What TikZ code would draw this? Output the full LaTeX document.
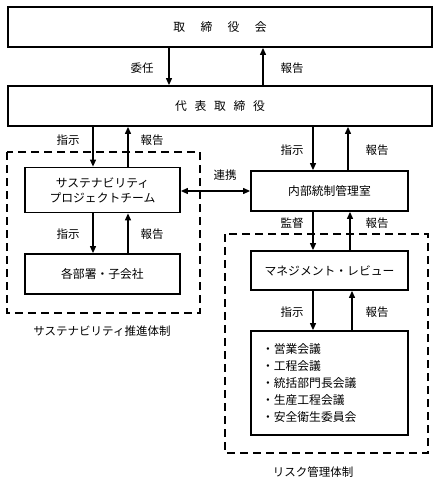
\documentclass[tikz,border=0pt]{standalone}
\usepackage{fontspec}
\setmainfont{Noto Sans CJK JP}
\usetikzlibrary{arrows.meta}

\begin{document}
\begin{tikzpicture}[x=1pt,y=-1pt,
    box/.style={draw, line width=1.8pt, inner sep=0pt, align=center, font=\fontsize{11.8}{15}\selectfont},
    grp/.style={draw, line width=1.8pt, dash pattern=on 8pt off 5pt},
    flow/.style={line width=1.2pt, -{Triangle[length=7pt,width=6pt]}},
    lbl/.style={font=\fontsize{11.5}{13}\selectfont}]
    \useasboundingbox (0,0) rectangle (439,483);

    \node[box, minimum width=424pt, minimum height=40pt] (board) at (220,27) {取\hspace{1.3em}締\hspace{1.3em}役\hspace{1.3em}会};
    \node[box, minimum width=424pt, minimum height=40pt] (rep) at (220,106) {代\hspace{0.65em}表\hspace{0.65em}取\hspace{0.65em}締\hspace{0.65em}役};
    \node[box, minimum width=155pt, minimum height=45pt] (spt) at (102.5,190) {サステナビリティ\\プロジェクトチーム};
    \node[box, minimum width=155pt, minimum height=40pt] (dept) at (102.5,274) {各部署・子会社};
    \node[box, minimum width=157pt, minimum height=40pt] (ics) at (329.5,191) {内部統制管理室};
    \node[box, minimum width=157pt, minimum height=39pt] (mr) at (329.5,270.5) {マネジメント・レビュー};
    \node[box, minimum width=157pt, minimum height=104pt, text width=135pt, align=left,
          font=\fontsize{11.8}{17}\selectfont] (mtg) at (329.5,383)
          {・営業会議\\・工程会議\\・統括部門長会議\\・生産工程会議\\・安全衛生委員会};

    \draw[grp] (7,152) rectangle (200,313);
    \draw[grp] (225,234) rectangle (428,453);

    \draw[flow] (169,0 |- board.south) -- (169,0 |- rep.north);
    \draw[flow] (263,0 |- rep.north) -- (263,0 |- board.south);
    \draw[flow] (93,0 |- rep.south) -- (93,0 |- spt.north);
    \draw[flow] (128,0 |- spt.north) -- (128,0 |- rep.south);
    \draw[flow] (313,0 |- rep.south) -- (313,0 |- ics.north);
    \draw[flow] (348,0 |- ics.north) -- (348,0 |- rep.south);
    \draw[flow] (93,0 |- spt.south) -- (93,0 |- dept.north);
    \draw[flow] (128,0 |- dept.north) -- (128,0 |- spt.south);
    \draw[flow] (313,0 |- ics.south) -- (313,0 |- mr.north);
    \draw[flow] (350,0 |- mr.north) -- (350,0 |- ics.south);
    \draw[flow] (313,0 |- mr.south) -- (313,0 |- mtg.north);
    \draw[flow] (352,0 |- mtg.north) -- (352,0 |- mr.south);
    \draw[flow, {Triangle[length=7pt,width=6pt]}-{Triangle[length=7pt,width=6pt]}] (spt.east |- ics.west) -- (ics.west);

    \node[lbl] (l1) at (142,68) {委任};
    \node[lbl] (l2) at (292,68) {報告};
    \node[lbl] (l3) at (68,140) {指示};
    \node[lbl] (l4) at (152,140) {報告};
    \node[lbl] (l5) at (292,150) {指示};
    \node[lbl] (l6) at (377,150) {報告};
    \node[lbl] (l7) at (225,175) {連携};
    \node[lbl] (l8) at (68,234) {指示};
    \node[lbl] (l9) at (152,234) {報告};
    \node[lbl] (l10) at (292,223) {監督};
    \node[lbl] (l11) at (377,223) {報告};
    \node[lbl] (l12) at (292,312) {指示};
    \node[lbl] (l13) at (377,312) {報告};
    \node[lbl] (sus) at (102,331) {サステナビリティ推進体制};
    \node[lbl] (risk) at (313,472) {リスク管理体制};
\end{tikzpicture}
\end{document}
